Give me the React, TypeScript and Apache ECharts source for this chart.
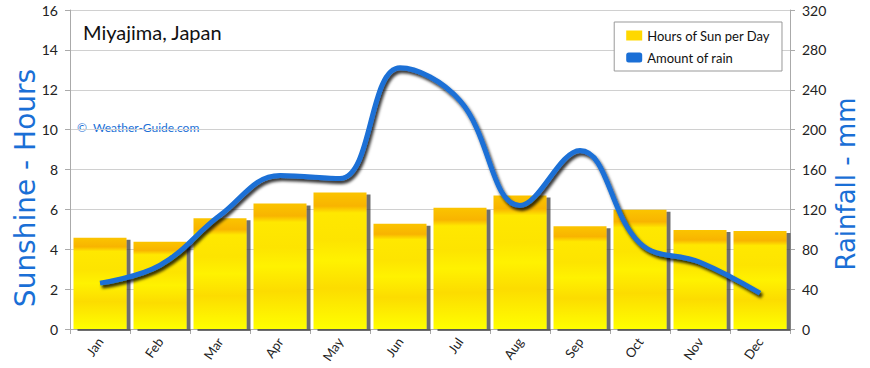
import React, { useEffect, useRef } from "react";
import * as echarts from "echarts";

const months = ["Jan", "Feb", "Mar", "Apr", "May", "Jun", "Jul", "Aug", "Sep", "Oct", "Nov", "Dec"];
const sunHours = [4.58, 4.38, 5.55, 6.3, 6.85, 5.28, 6.08, 6.7, 5.15, 5.98, 4.96, 4.92];
const rainMm = [46, 64, 114, 154, 151, 262, 229, 124, 179, 86, 67, 36];

const FONT = "Lato";
const BLUE = "#1a6fd6";

export default function App() {
  const ref = useRef<HTMLDivElement>(null);
  useEffect(() => {
    if (!ref.current) return;
    const chart = echarts.init(ref.current, undefined, { renderer: "svg" });
    const barColor = new echarts.graphic.LinearGradient(0, 0, 0, 1, [
      { offset: 0, color: "#fbc400" },
      { offset: 0.1, color: "#f8b400" },
      { offset: 0.15, color: "#ffe800" },
      { offset: 0.35, color: "#fde400" },
      { offset: 0.5, color: "#fff200" },
      { offset: 0.7, color: "#fcdc00" },
      { offset: 1, color: "#ffff00" },
    ]);
    chart.setOption({
      animation: false,
      backgroundColor: "#ffffff",
      textStyle: { fontFamily: FONT },
      grid: { left: 70, right: 80, top: 10, bottom: 39, outerBoundsMode: "none", containLabel: false },
      title: {
        text: "Miyajima, Japan",
        left: 78,
        top: 17,
        textStyle: { fontFamily: FONT, fontSize: 20, fontWeight: "normal", color: "#111" },
      },
      graphic: [
        {
          type: "text",
          left: 77,
          top: 121,
          style: { text: "©  Weather-Guide.com", fill: BLUE, font: `12px ${FONT}` },
        },
        {
          type: "text",
          x: 25,
          y: 188,
          rotation: Math.PI / 2,
          style: {
            text: "Sunshine - Hours",
            fill: BLUE,
            font: "28px 'DejaVu Sans'",
            align: "center",
            verticalAlign: "middle",
          },
        },
        {
          type: "text",
          x: 846,
          y: 184,
          rotation: Math.PI / 2,
          style: {
            text: "Rainfall - mm",
            fill: BLUE,
            font: "26px 'DejaVu Sans'",
            align: "center",
            verticalAlign: "middle",
          },
        },
      ],
      legend: {
        right: 88,
        top: 22,
        orient: "vertical",
        backgroundColor: "#fff",
        borderColor: "#999",
        borderWidth: 1,
        padding: [7, 12, 7, 12],
        itemGap: 9,
        itemWidth: 16,
        itemHeight: 10,
        textStyle: { fontFamily: FONT, fontSize: 13, color: "#111" },
        data: [
          { name: "Hours of Sun per Day", icon: "rect", itemStyle: { color: "#ffd800" } },
          { name: "Amount of rain", icon: "roundRect", itemStyle: { color: BLUE } },
        ],
      },
      xAxis: {
        type: "category",
        data: months,
        axisLine: { lineStyle: { color: "#aaa", width: 1 } },
        axisTick: { show: true, alignWithLabel: false, lineStyle: { color: "#aaa" } },
        axisLabel: { rotate: 55, color: "#222", fontSize: 13, margin: 10, fontFamily: FONT },
      },
      yAxis: [
        {
          type: "value",
          min: 0,
          max: 16,
          interval: 2,
          axisLine: { show: true, lineStyle: { color: "#aaa" } },
          axisTick: { show: true, lineStyle: { color: "#aaa" } },
          axisLabel: { color: "#222", fontSize: 14, margin: 12 },
          splitLine: { lineStyle: { color: "#d0d0d0", width: 1 } },
        },
        {
          type: "value",
          min: 0,
          max: 320,
          interval: 40,
          axisLine: { show: true, lineStyle: { color: "#aaa" } },
          axisTick: { show: true, lineStyle: { color: "#aaa" } },
          axisLabel: { color: "#222", fontSize: 14, margin: 12 },
          splitLine: { show: false },
        },
      ],
      series: [
        {
          name: "Hours of Sun per Day",
          type: "bar",
          data: sunHours,
          yAxisIndex: 0,
          barWidth: 53,
          itemStyle: {
            color: barColor,
            shadowColor: "rgba(60,60,60,0.75)",
            shadowOffsetX: 4,
            shadowOffsetY: 2,
            shadowBlur: 1,
          },
        },
        {
          name: "Amount of rain",
          type: "line",
          data: rainMm,
          yAxisIndex: 1,
          smooth: 0.4,
          showSymbol: false,
          symbol: "none",
          lineStyle: {
            color: BLUE,
            width: 5,
            shadowColor: "rgba(0,0,0,0.8)",
            shadowBlur: 3,
            shadowOffsetX: 2,
            shadowOffsetY: 3,
          },
          itemStyle: { color: BLUE },
          z: 5,
        },
      ],
    });
    return () => chart.dispose();
  }, []);
  return <div ref={ref} style={{ width: 870, height: 368, position: "absolute", left: 0, top: 0 }} />;
}
